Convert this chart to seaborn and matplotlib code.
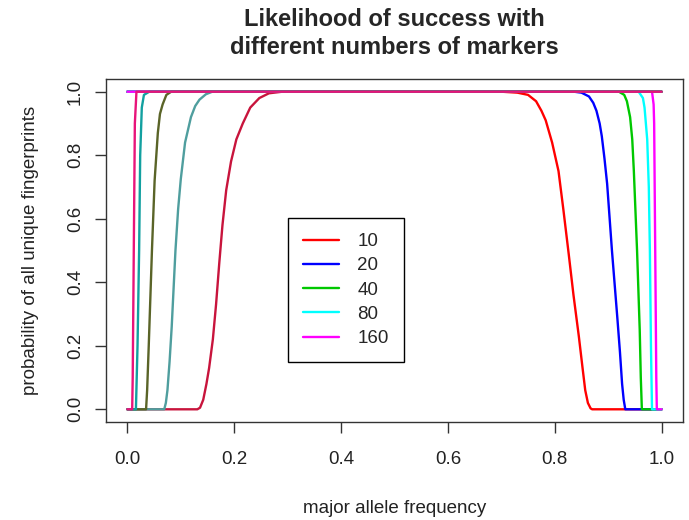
import numpy as np
import pandas as pd
import matplotlib
matplotlib.use('Agg')
import matplotlib.pyplot as plt
import seaborn as sns

# marker counts and colours (legend / right-hand descent)
markers = ['10', '20', '40', '80', '160']
colors = ['#ff0000', '#0000ff', '#00c800', '#00ffff', '#ff00ff']
# the mirrored (left-hand) curves are drawn in darker shades
left_colors = ['#c8143c', '#4f9e9e', '#5a6428', '#12a0a0', '#e8147a']

# curves falling from 1 to 0 near the right edge
fall_x = {
    '10':  [0.0, 0.70, 0.73, 0.75, 0.765, 0.775, 0.783, 0.795, 0.807, 0.816, 0.826,
            0.835, 0.845, 0.852, 0.857, 0.862, 0.867, 0.87, 1.0],
    '20':  [0.0, 0.836, 0.85, 0.864, 0.872, 0.878, 0.884, 0.888, 0.893, 0.898, 0.907,
            0.917, 0.922, 0.926, 0.929, 0.932, 1.0],
    '40':  [0.0, 0.920, 0.930, 0.935, 0.941, 0.945, 0.948, 0.954, 0.959, 0.961, 0.963, 1.0],
    '80':  [0.0, 0.957, 0.965, 0.968, 0.973, 0.976, 0.978, 0.980, 0.982, 1.0],
    '160': [0.0, 0.982, 0.985, 0.986, 0.988, 0.990, 0.991, 1.0],
}
fall_y = {
    '10':  [1.0, 1.0, 0.997, 0.99, 0.97, 0.94, 0.91, 0.84, 0.75, 0.63, 0.49,
            0.36, 0.23, 0.13, 0.06, 0.02, 0.003, 0.0, 0.0],
    '20':  [1.0, 1.0, 0.997, 0.985, 0.965, 0.94, 0.90, 0.86, 0.79, 0.71, 0.50,
            0.29, 0.18, 0.08, 0.03, 0.0, 0.0],
    '40':  [1.0, 1.0, 0.99, 0.97, 0.92, 0.85, 0.75, 0.50, 0.25, 0.10, 0.0, 0.0],
    '80':  [1.0, 1.0, 0.98, 0.95, 0.85, 0.70, 0.50, 0.20, 0.0, 0.0],
    '160': [1.0, 1.0, 0.96, 0.90, 0.50, 0.10, 0.0, 0.0],
}

# curves rising from 0 to 1 near the left edge
rise_x = {
    '10':  [0.0, 0.131, 0.136, 0.142, 0.148, 0.153, 0.160, 0.166, 0.172, 0.178, 0.185,
            0.194, 0.204, 0.216, 0.230, 0.247, 0.265, 0.29, 1.0],
    '20':  [0.0, 0.069, 0.072, 0.075, 0.079, 0.083, 0.090, 0.095, 0.100, 0.108, 0.119,
            0.127, 0.135, 0.147, 0.159, 1.0],
    '40':  [0.0, 0.035, 0.037, 0.040, 0.046, 0.051, 0.057, 0.061, 0.066, 0.073, 0.082, 1.0],
    '80':  [0.0, 0.016, 0.019, 0.022, 0.024, 0.027, 0.031, 0.041, 1.0],
    '160': [0.0, 0.009, 0.010, 0.012, 0.014, 0.017, 1.0],
}
rise_y = {
    '10':  [0.0, 0.0, 0.005, 0.03, 0.08, 0.13, 0.22, 0.33, 0.46, 0.58, 0.69,
            0.78, 0.85, 0.90, 0.95, 0.98, 0.995, 1.0, 1.0],
    '20':  [0.0, 0.0, 0.02, 0.06, 0.15, 0.26, 0.50, 0.63, 0.725, 0.84, 0.92,
            0.955, 0.975, 0.992, 1.0, 1.0],
    '40':  [0.0, 0.0, 0.06, 0.20, 0.50, 0.72, 0.87, 0.93, 0.96, 0.99, 1.0, 1.0],
    '80':  [0.0, 0.0, 0.20, 0.50, 0.80, 0.95, 0.99, 1.0, 1.0],
    '160': [0.0, 0.0, 0.10, 0.50, 0.90, 1.0, 1.0],
}

xticks = [0.0, 0.2, 0.4, 0.6, 0.8, 1.0]
yticks = [0.0, 0.2, 0.4, 0.6, 0.8, 1.0]


def long_frame(xs, ys):
    rows = []
    for m in markers:
        for x, y in zip(xs[m], ys[m]):
            rows.append((m, x, y))
    return pd.DataFrame(rows, columns=['markers', 'freq', 'prob'])


sns.set_style('ticks')
plt.rcParams['font.family'] = ['Liberation Sans', 'DejaVu Sans']

fig = plt.figure(figsize=(6.89, 5.2), dpi=100)
ax = fig.add_axes([106 / 689, 98 / 520, 577 / 689, 343 / 520])

df_fall = long_frame(fall_x, fall_y)
df_rise = long_frame(rise_x, rise_y)

sns.lineplot(data=df_fall, x='freq', y='prob', hue='markers', hue_order=markers,
             palette=colors, estimator=None, sort=False, lw=1.7, ax=ax)
leg = ax.get_legend()
handles = leg.legend_handles
labels = [t.get_text() for t in leg.get_texts()]

sns.lineplot(data=df_rise, x='freq', y='prob', hue='markers', hue_order=markers,
             palette=left_colors, estimator=None, sort=False, lw=1.7,
             legend=False, ax=ax)

for h in handles:
    h.set_linewidth(1.7)
ax.legend(handles, labels, loc='upper left', bbox_to_anchor=(0.3154, 0.5948),
          fontsize=13.5, frameon=True, fancybox=False, edgecolor='black',
          framealpha=1, handlelength=1.9, handletextpad=1.0,
          labelspacing=0.38, borderpad=0.8, borderaxespad=0)
ax.get_legend().get_frame().set_linewidth(1.0)

ax.set_xlim(-0.04, 1.04)
ax.set_ylim(-0.04, 1.04)
ax.set_xticks(xticks)
ax.set_yticks(yticks)
ax.set_xticklabels([f'{t:.1f}' for t in xticks])
ax.set_yticklabels([f'{t:.1f}' for t in yticks], rotation=90, va='center')
ax.tick_params(axis='both', direction='out', length=8, width=1, labelsize=13.5,
               color='#333333', labelcolor='#222222')
ax.tick_params(axis='x', pad=13)
ax.tick_params(axis='y', pad=8)
for s in ax.spines.values():
    s.set_visible(True)
    s.set_color('#333333')
    s.set_linewidth(1.0)

ax.set_xlabel('major allele frequency', fontsize=13.5, color='#222222', labelpad=23)
ax.set_ylabel('probability of all unique fingerprints', fontsize=13.5,
              color='#222222', labelpad=20)
ax.set_title('Likelihood of success with\ndifferent numbers of markers',
             fontsize=17, fontweight='bold', linespacing=1.3, pad=18)

fig.savefig('out.png', dpi=100)
